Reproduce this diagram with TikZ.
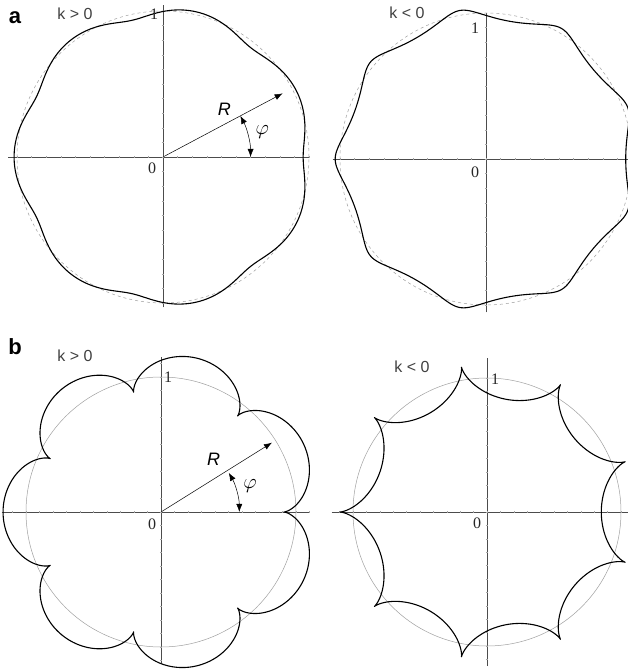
\documentclass[tikz,border=0pt]{standalone}
\usepackage{fontspec}
\setmainfont{Liberation Serif}
\setsansfont{Liberation Sans}
\usetikzlibrary{arrows.meta}

\begin{document}
\begin{tikzpicture}[x=1pt,y=1pt,
  trace/.style = {line width=1.1pt, line join=round},
  axisline/.style = {gray!60!black, line width=0.5pt},
  tickmark/.style = {gray!70, line width=0.4pt},
  unitcircle/.style = {gray!75, line width=0.5pt},
  klbl/.style = {font=\sffamily\fontsize{16}{18}\selectfont, text=black!75},
  numlbl/.style = {font=\fontsize{16}{18}\selectfont, text=black!85},
  panellbl/.style = {font=\sffamily\bfseries\fontsize{22}{24}\selectfont},
  rvec/.style = {-{Latex[length=8pt,width=6pt]}, line width=0.5pt},
  angvec/.style = {{Latex[length=8pt,width=6pt]}-{Latex[length=8pt,width=6pt]}, line width=0.5pt}]
\useasboundingbox (0,0) rectangle (628,670);

\begin{scope}[shift={(163,513)}, scale=146]
  \draw[axisline] (-1.06,0) -- (1.01,0);
  \draw[axisline] (0,-1.03) -- (0,1.04);
  \foreach \i in {-10,...,10} {
    \draw[tickmark] (\i/10,-0.008) -- (\i/10,0.008);
    \draw[tickmark] (-0.008,\i/10) -- (0.008,\i/10);
  }
  \draw[unitcircle, dashed] (0,0) circle[radius=1];
  \draw[trace] plot[domain=0:360, samples=361]
    ({0.99*cos(\x)-0.03*cos(8*\x)}, {0.99*sin(\x)-0.03*sin(8*\x)}) -- cycle;
  \coordinate (aO) at (0,0);
  \coordinate (aR) at (28:0.93);
  \draw[rvec] (aO) -- (aR);
  \draw[angvec] (0.6,0) arc[start angle=0, end angle=28, radius=0.6];
  \node (aRl) at (0.42,0.33) {\sffamily\itshape\fontsize{18}{20}\selectfont R};
  \node (aphi) at (0.68,0.17) {\fontsize{22}{24}\selectfont$\varphi$};
\end{scope}

\begin{scope}[shift={(486,511)}, scale=146]
  \draw[axisline] (-1.05,0) -- (0.98,0);
  \draw[axisline] (0,-1.05) -- (0,1.0);
  \foreach \i in {-10,...,9} {
    \draw[tickmark] (\i/10,-0.008) -- (\i/10,0.008);
    \draw[tickmark] (-0.008,\i/10) -- (0.008,\i/10);
  }
  \draw[unitcircle, dashed] (0,0) circle[radius=1];
  \draw[trace] plot[domain=0:360, samples=361]
    ({-0.995*cos(\x)-0.038*cos(8*\x)}, {-0.995*sin(\x)+0.038*sin(8*\x)}) -- cycle;
\end{scope}

\begin{scope}[shift={(161,158)}, scale=135]
  \draw[axisline] (-1.18,0) -- (1.10,0);
  \draw[axisline] (0,-1.12) -- (0,1.15);
  \foreach \i in {-11,...,11} {
    \draw[tickmark] (\i/10,-0.008) -- (\i/10,0.008);
    \draw[tickmark] (-0.008,\i/10) -- (0.008,\i/10);
  }
  \draw[unitcircle] (0,0) circle[radius=1];
  \draw[trace] plot[domain=0:360, samples=721]
    ({1.04*cos(\x)-0.13*cos(8*\x)}, {1.04*sin(\x)-0.13*sin(8*\x)}) -- cycle;
  \coordinate (bO) at (0,0);
  \coordinate (bR) at (32:0.97);
  \draw[rvec] (bO) -- (bR);
  \draw[angvec] (0.58,0) arc[start angle=0, end angle=30, radius=0.58];
  \node (bRl) at (0.39,0.39) {\sffamily\itshape\fontsize{18}{20}\selectfont R};
  \node (bphi) at (0.66,0.19) {\fontsize{22}{24}\selectfont$\varphi$};
\end{scope}

\begin{scope}[shift={(487,158)}, scale=134]
  \draw[axisline] (-1.16,0) -- (1.05,0);
  \draw[axisline] (0,-1.15) -- (0,1.15);
  \foreach \i in {-11,...,10} {
    \draw[tickmark] (\i/10,-0.008) -- (\i/10,0.008);
    \draw[tickmark] (-0.008,\i/10) -- (0.008,\i/10);
  }
  \draw[unitcircle] (0,0) circle[radius=1];
  \draw[trace] plot[domain=0:360, samples=721]
    ({-0.975*cos(\x)-0.122*cos(8*\x)}, {-0.975*sin(\x)+0.122*sin(8*\x)}) -- cycle;
\end{scope}

\node[panellbl] (pa) at (15,652) {a};
\node[panellbl] (pb) at (15,323) {b};
\node[klbl] (ka) at (75,656) {k > 0};
\node[klbl] (kb) at (407,657) {k < 0};
\node[klbl] (kc) at (75,314) {k > 0};
\node[klbl] (kd) at (412,303) {k < 0};
\node[numlbl] (oa) at (152,502) {0};
\node[numlbl] (ua) at (154,656) {1};
\node[numlbl] (ob) at (475,498) {0};
\node[numlbl] (ub) at (475,642) {1};
\node[numlbl] (oc) at (152,146) {0};
\node[numlbl] (uc) at (168,293) {1};
\node[numlbl] (od) at (477,147) {0};
\node[numlbl] (ud) at (495,291) {1};
\end{tikzpicture}
\end{document}
